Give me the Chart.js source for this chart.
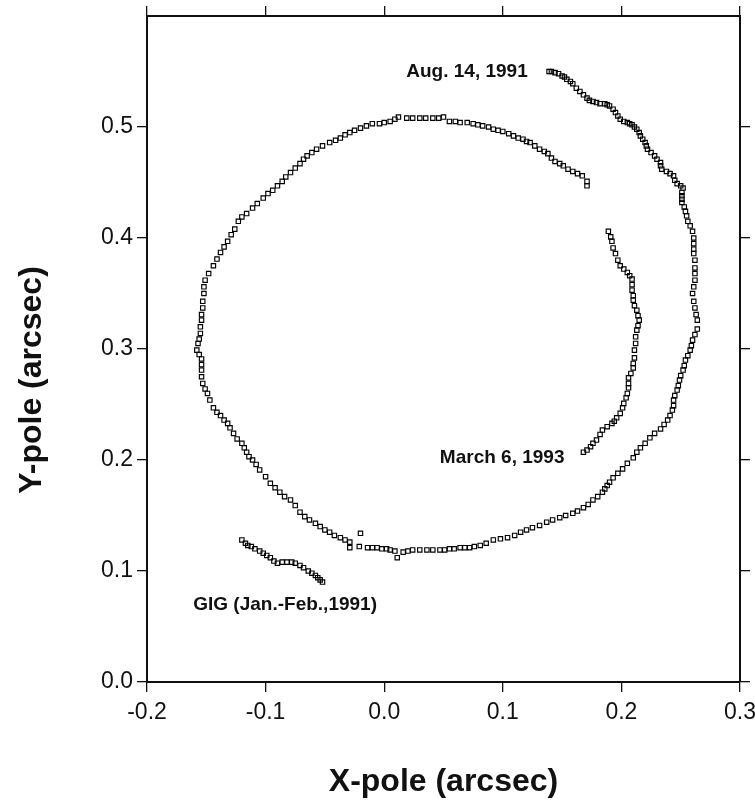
<!DOCTYPE html>
<html>
<head>
<meta charset="utf-8">
<script src="https://cdn.jsdelivr.net/npm/chart.js@4.4.1/dist/chart.umd.min.js"></script>
<style>
  html, body { margin: 0; padding: 0; background: #fff; }
  #wrap { width: 755px; height: 806px; }
</style>
</head>
<body>
<div id="wrap"><canvas id="pole" width="755" height="806"></canvas></div>
<script>
// --- data (arcsec) ---
// main track, starting Aug. 14, 1991
const augX = [0.139,0.141,0.144,0.147,0.150,0.152,0.154,0.157,0.159,0.162,
  0.165,0.168,0.171,0.173,0.176,0.179,0.182,0.186,0.188,0.190,
  0.193,0.195,0.197,0.199,0.202,0.205,0.207,0.209,0.211,0.213,
  0.215,0.216,0.218,0.220,0.221,0.222,0.225,0.228,0.230,0.233,
  0.233,0.234,0.238,0.241,0.244,0.245,0.247,0.250,0.252,0.251,
  0.251,0.251,0.251,0.253,0.254,0.255,0.256,0.258,0.260,0.261,
  0.261,0.261,0.261,0.262,0.262,0.262,0.262,0.261,0.260,0.261,
  0.262,0.263,0.264,0.264,0.262,0.260,0.259,0.258,0.256,0.254,
  0.253,0.252,0.250,0.249,0.248,0.247,0.245,0.244,0.244,0.243,
  0.241,0.239,0.236,0.233,0.228,0.224,0.220,0.216,0.213,0.210,
  0.205,0.201,0.197,0.193,0.190,0.188,0.186,0.184,0.180,0.176,
  0.172,0.168,0.163,0.159,0.153,0.148,0.142,0.137,0.131,0.125,
  0.120,0.115,0.110,0.104,0.098,0.092,0.086,0.081,0.076,0.072,
  0.068,0.064,0.059,0.055,0.051,0.047,0.041,0.036,0.030,0.024,
  0.020,0.016,0.011,0.009,0.005,0.002,-0.002,-0.006,-0.010,-0.014,
  -0.021,-0.020,-0.029,-0.029,-0.033,-0.037,-0.042,-0.046,-0.050,-0.054,
  -0.058,-0.063,-0.067,-0.071,-0.075,-0.079,-0.084,-0.088,-0.092,-0.096,
  -0.100,-0.105,-0.108,-0.111,-0.114,-0.116,-0.118,-0.120,-0.124,-0.127,
  -0.130,-0.132,-0.135,-0.138,-0.141,-0.144,-0.147,-0.149,-0.151,-0.153,
  -0.154,-0.154,-0.154,-0.154,-0.156,-0.158,-0.157,-0.156,-0.155,-0.155,
  -0.154,-0.154,-0.153,-0.153,-0.152,-0.152,-0.151,-0.148,-0.144,-0.141,
  -0.138,-0.135,-0.132,-0.129,-0.126,-0.123,-0.120,-0.116,-0.111,-0.107,
  -0.102,-0.098,-0.094,-0.090,-0.086,-0.083,-0.079,-0.075,-0.071,-0.068,
  -0.065,-0.061,-0.057,-0.052,-0.046,-0.041,-0.037,-0.033,-0.029,-0.025,
  -0.020,-0.015,-0.010,-0.004,0.000,0.005,0.009,0.012,0.019,0.024,
  0.030,0.035,0.041,0.046,0.050,0.055,0.060,0.064,0.070,0.075,
  0.079,0.083,0.088,0.092,0.096,0.100,0.105,0.109,0.113,0.117,
  0.120,0.123,0.127,0.131,0.135,0.138,0.141,0.144,0.148,0.151,
  0.155,0.159,0.163,0.167,0.171,0.171];
const augY = [0.550,0.550,0.549,0.548,0.546,0.545,0.543,0.541,0.539,0.535,
  0.532,0.529,0.526,0.524,0.523,0.522,0.521,0.521,0.520,0.519,
  0.516,0.513,0.510,0.507,0.505,0.504,0.503,0.502,0.500,0.498,
  0.495,0.492,0.489,0.486,0.483,0.480,0.477,0.474,0.471,0.468,
  0.465,0.462,0.460,0.458,0.456,0.452,0.449,0.447,0.445,0.441,
  0.438,0.435,0.432,0.428,0.424,0.420,0.415,0.411,0.406,0.400,
  0.395,0.390,0.386,0.380,0.373,0.368,0.362,0.356,0.350,0.343,
  0.337,0.331,0.326,0.318,0.313,0.308,0.303,0.299,0.294,0.290,
  0.285,0.281,0.276,0.272,0.267,0.263,0.258,0.254,0.249,0.245,
  0.240,0.236,0.232,0.228,0.224,0.220,0.215,0.211,0.207,0.202,
  0.197,0.192,0.188,0.184,0.180,0.177,0.174,0.171,0.167,0.164,
  0.160,0.157,0.154,0.152,0.150,0.148,0.146,0.144,0.141,0.139,
  0.137,0.135,0.132,0.130,0.129,0.128,0.125,0.123,0.122,0.121,
  0.121,0.121,0.120,0.120,0.119,0.119,0.119,0.119,0.119,0.119,
  0.118,0.117,0.112,0.118,0.119,0.120,0.120,0.121,0.121,0.121,
  0.122,0.134,0.121,0.126,0.128,0.130,0.132,0.135,0.137,0.140,
  0.143,0.146,0.149,0.153,0.159,0.164,0.167,0.171,0.175,0.179,
  0.185,0.191,0.196,0.200,0.203,0.207,0.211,0.215,0.219,0.224,
  0.229,0.233,0.236,0.240,0.243,0.247,0.254,0.260,0.264,0.269,
  0.275,0.281,0.286,0.291,0.295,0.299,0.305,0.309,0.314,0.320,
  0.326,0.331,0.337,0.343,0.350,0.356,0.362,0.368,0.375,0.381,
  0.387,0.392,0.397,0.403,0.408,0.415,0.419,0.422,0.427,0.431,
  0.436,0.440,0.443,0.447,0.451,0.455,0.459,0.463,0.467,0.471,
  0.474,0.477,0.480,0.483,0.486,0.488,0.490,0.493,0.495,0.497,
  0.499,0.501,0.503,0.503,0.504,0.505,0.507,0.509,0.508,0.508,
  0.508,0.508,0.508,0.508,0.509,0.505,0.505,0.504,0.504,0.503,
  0.502,0.501,0.500,0.498,0.497,0.496,0.494,0.492,0.490,0.489,
  0.487,0.486,0.483,0.480,0.478,0.476,0.472,0.469,0.467,0.465,
  0.462,0.460,0.458,0.456,0.451,0.447];

// inner arc ending March 6, 1993
const marchX = [0.189,0.191,0.192,0.193,0.195,0.197,0.199,0.202,0.205,0.207,
  0.209,0.209,0.209,0.210,0.210,0.211,0.213,0.214,0.215,0.214,
  0.213,0.212,0.212,0.211,0.211,0.210,0.210,0.208,0.206,0.206,
  0.206,0.205,0.204,0.202,0.201,0.199,0.196,0.194,0.192,0.188,
  0.184,0.182,0.179,0.176,0.174,0.171,0.168];
const marchY = [0.406,0.401,0.397,0.391,0.386,0.380,0.375,0.372,0.369,0.366,
  0.363,0.358,0.353,0.348,0.344,0.339,0.335,0.330,0.326,0.321,
  0.317,0.311,0.305,0.299,0.292,0.287,0.283,0.278,0.274,0.269,
  0.265,0.260,0.256,0.251,0.247,0.242,0.238,0.235,0.233,0.230,
  0.227,0.223,0.218,0.215,0.212,0.209,0.207];

// GIG campaign (Jan.-Feb., 1991)
const gigX = [-0.120,-0.117,-0.115,-0.112,-0.109,-0.105,-0.102,-0.099,-0.096,-0.093,
  -0.090,-0.086,-0.082,-0.078,-0.075,-0.071,-0.068,-0.064,-0.061,-0.058,
  -0.056,-0.054,-0.052];
const gigY = [0.128,0.125,0.123,0.122,0.120,0.118,0.116,0.114,0.112,0.109,
  0.107,0.108,0.108,0.108,0.107,0.105,0.103,0.100,0.098,0.096,
  0.094,0.092,0.090];

const xTicks = [-0.2, -0.1, 0.0, 0.1, 0.2, 0.3];
const yTicks = [0.0, 0.1, 0.2, 0.3, 0.4, 0.5];

const notes = [
  { text: 'Aug. 14, 1991', x: 0.121, y: 0.550, align: 'right' },
  { text: 'March 6, 1993', x: 0.152, y: 0.202, align: 'right' },
  { text: 'GIG (Jan.-Feb.,1991)', x: -0.161, y: 0.070, align: 'left' }
];

function pairs(xs, ys) {
  return xs.map(function(x, i) { return { x: x, y: ys[i] }; });
}

function fmt(v) {
  if (Math.abs(v) < 1e-9) return '0.0';
  return v.toFixed(1);
}

const FONT = 'Liberation Sans, Arial, Helvetica, sans-serif';

const pointStyle = {
  showLine: false,
  pointStyle: 'rect',
  pointRadius: 3.1,
  pointBorderWidth: 1.15,
  pointBorderColor: '#000',
  pointBackgroundColor: 'rgba(255,255,255,0)'
};

// annotations + axis titles
const textPlugin = {
  id: 'poleText',
  afterDatasetsDraw: function(chart) {
    const ctx = chart.ctx;
    const xs = chart.scales.x, ys = chart.scales.y;
    ctx.save();
    ctx.fillStyle = '#111';
    ctx.font = 'bold 19px ' + FONT;
    ctx.textBaseline = 'middle';
    notes.forEach(function(n) {
      ctx.textAlign = n.align;
      ctx.fillText(n.text, xs.getPixelForValue(n.x), ys.getPixelForValue(n.y));
    });

    ctx.font = 'bold 32px ' + FONT;
    ctx.textAlign = 'center';
    ctx.fillText('X-pole (arcsec)', (chart.chartArea.left + chart.chartArea.right) / 2, 782);

    ctx.translate(32, 380);
    ctx.rotate(-Math.PI / 2);
    ctx.fillText('Y-pole (arcsec)', 0, 0);
    ctx.restore();
  }
};

const frameGrid = {
  drawOnChartArea: false,
  drawTicks: true,
  tickLength: 10,
  color: '#111',
  lineWidth: 1.3
};
const frameBorder = { display: true, color: '#111', width: 2 };

// keep the frame fixed: no extra room for overhanging labels
function fixBox(w, h) {
  return function(s) {
    if (w !== null) s.width = w;
    if (h !== null) s.height = h;
    s.paddingLeft = 0; s.paddingRight = 0;
    s.paddingTop = 0; s.paddingBottom = 0;
  };
}

function tickList(list) {
  return function(s) { s.ticks = list.map(function(v) { return { value: v }; }); };
}

new Chart(document.getElementById('pole'), {
  type: 'scatter',
  data: {
    datasets: [
      Object.assign({ label: 'Aug. 14, 1991', data: pairs(augX, augY) }, pointStyle),
      Object.assign({ label: 'March 6, 1993', data: pairs(marchX, marchY) }, pointStyle),
      Object.assign({ label: 'GIG', data: pairs(gigX, gigY) }, pointStyle)
    ]
  },
  options: {
    responsive: false,
    animation: false,
    layout: { padding: 0 },
    plugins: {
      legend: { display: false },
      tooltip: { enabled: false }
    },
    scales: {
      x: {
        type: 'linear',
        position: 'bottom',
        min: -0.2,
        max: 0.3,
        afterBuildTicks: tickList(xTicks),
        afterFit: fixBox(null, 124),
        grid: frameGrid,
        border: frameBorder,
        ticks: {
          color: '#111',
          padding: 7,
          maxRotation: 0,
          font: { family: FONT, size: 23 },
          callback: function(v) { return fmt(v); }
        }
      },
      y: {
        type: 'linear',
        position: 'left',
        min: 0,
        max: 0.6,
        afterBuildTicks: tickList(yTicks),
        afterFit: fixBox(147, null),
        grid: frameGrid,
        border: frameBorder,
        ticks: {
          color: '#111',
          padding: 4,
          font: { family: FONT, size: 23 },
          callback: function(v) { return fmt(v); }
        }
      },
      x2: {
        type: 'linear',
        position: 'top',
        min: -0.2,
        max: 0.3,
        afterBuildTicks: tickList(xTicks),
        afterFit: fixBox(null, 16),
        grid: frameGrid,
        border: frameBorder,
        ticks: { display: false }
      },
      y2: {
        type: 'linear',
        position: 'right',
        min: 0,
        max: 0.6,
        afterBuildTicks: tickList(yTicks),
        afterFit: fixBox(15, null),
        grid: frameGrid,
        border: frameBorder,
        ticks: { display: false }
      }
    }
  },
  plugins: [textPlugin]
});
</script>
</body>
</html>
